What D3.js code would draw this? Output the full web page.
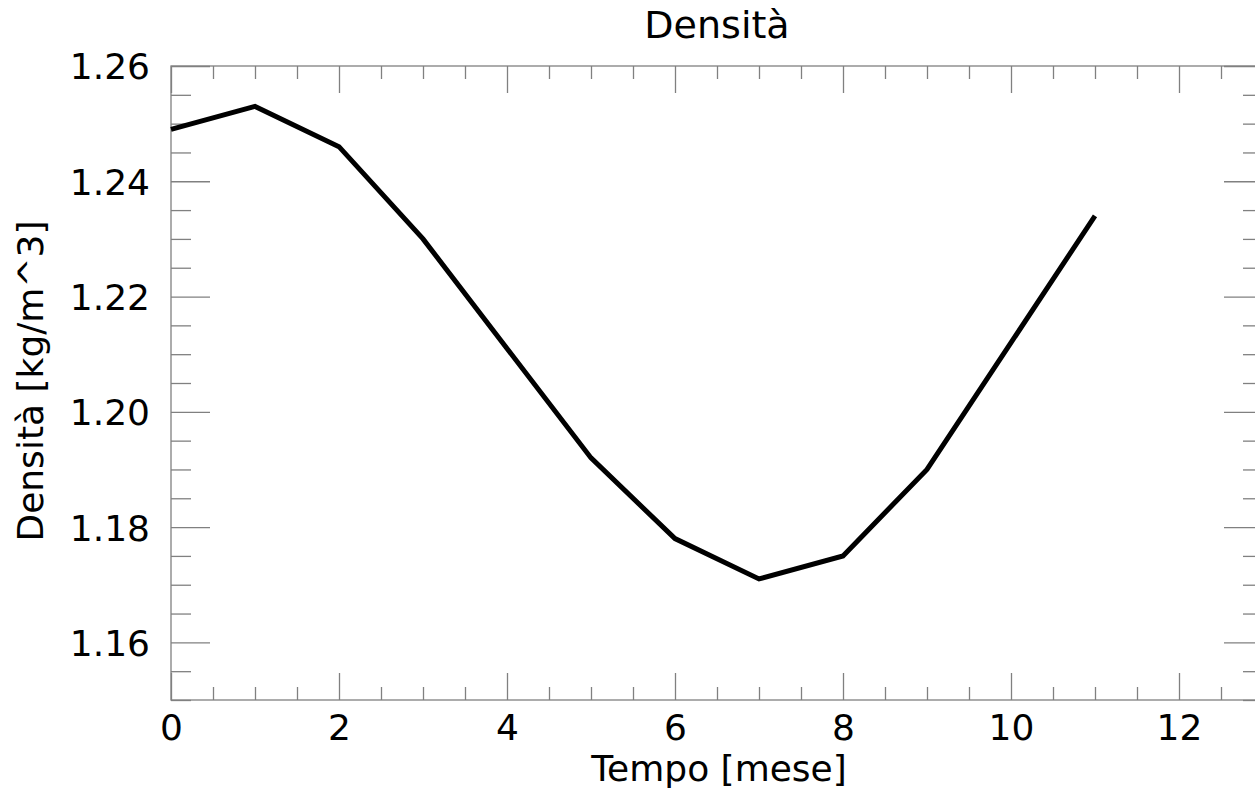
<!DOCTYPE html>
<html>
<head>
<meta charset="utf-8">
<script src="https://cdn.jsdelivr.net/npm/d3@7"></script>
<style>
    body { margin: 0; background: #fff; }
    svg { display: block; overflow: hidden; }
    .axis path, .axis line { stroke: #808080; stroke-width: 1.3; }
    .axis text { fill: #000; font-family: "DejaVu Sans", sans-serif; font-size: 36px; }
</style>
</head>
<body>
<div id="chart"></div>
<script>

// mese 0..11
var months = [0, 1, 2, 3, 4, 5, 6, 7, 8, 9, 10, 11];
var density = [1.249, 1.253, 1.246, 1.230, 1.211, 1.192, 1.178, 1.171, 1.175, 1.190, 1.212, 1.234];

var x_major_ticks = [0, 2, 4, 6, 8, 10, 12];
var y_major_ticks = [1.16, 1.18, 1.20, 1.22, 1.24, 1.26];

var w = 1255;
var h = 793;
var plot_left = 171, plot_right = 1263, plot_top = 66, plot_bottom = 700;

var xScale = d3.scaleLinear().domain([0, 13]).range([plot_left, plot_right]);
var yScale = d3.scaleLinear().domain([1.15, 1.26]).range([plot_bottom, plot_top]);

var x_minor = d3.range(0, 13.01, 0.5).filter(function(d) { return d % 2 != 0; });
var y_minor = d3.range(1.15, 1.2601, 0.005).filter(function(d) {
    return y_major_ticks.every(function(m) { return Math.abs(m - d) > 1e-6; });
});

var svg = d3.select('#chart')
            .append('svg')
            .attr('width', w)
            .attr('height', h);

// frame
svg.append('rect')
    .attr('x', plot_left)
    .attr('y', plot_top)
    .attr('width', plot_right - plot_left)
    .attr('height', plot_bottom - plot_top)
    .attr('fill', 'none')
    .attr('stroke', '#808080')
    .attr('stroke-width', 1.3);

function add_axis(axis, transform, dy) {
    var g = svg.append('g')
        .attr('class', 'axis')
        .attr('transform', transform)
        .call(axis);
    g.select('.domain').remove();
    g.attr('font-size', 36).attr('font-family', 'DejaVu Sans, sans-serif');
    if (dy) {
        g.selectAll('text').attr('dy', dy);
    }
    return g;
}

// bottom
add_axis(d3.axisBottom(xScale).tickValues(x_major_ticks).tickSize(-27).tickPadding(14).tickFormat(d3.format('d')),
         'translate(0,' + plot_bottom + ')', '0.71em');
add_axis(d3.axisBottom(xScale).tickValues(x_minor).tickSize(-13).tickFormat(''),
         'translate(0,' + plot_bottom + ')');
// top
add_axis(d3.axisTop(xScale).tickValues(x_major_ticks).tickSize(-27).tickFormat(''),
         'translate(0,' + plot_top + ')');
add_axis(d3.axisTop(xScale).tickValues(x_minor).tickSize(-13).tickFormat(''),
         'translate(0,' + plot_top + ')');
// left
add_axis(d3.axisLeft(yScale).tickValues(y_major_ticks).tickSize(-39).tickPadding(21).tickFormat(d3.format('.2f')),
         'translate(' + plot_left + ',0)', '0.36em');
add_axis(d3.axisLeft(yScale).tickValues(y_minor).tickSize(-20).tickFormat(''),
         'translate(' + plot_left + ',0)');
// right
add_axis(d3.axisRight(yScale).tickValues(y_major_ticks).tickSize(-39).tickFormat(''),
         'translate(' + plot_right + ',0)');
add_axis(d3.axisRight(yScale).tickValues(y_minor).tickSize(-20).tickFormat(''),
         'translate(' + plot_right + ',0)');

var line = d3.line()
    .x(function(d, i) { return xScale(months[i]); })
    .y(function(d) { return yScale(d); });

svg.append('path')
    .datum(density)
    .attr('d', line)
    .attr('fill', 'none')
    .attr('stroke', '#000')
    .attr('stroke-width', 5);

svg.append('text')
    .attr('text-anchor', 'middle')
    .attr('font-family', 'DejaVu Sans, sans-serif')
    .attr('font-size', 38)
    .attr('x', 717)
    .attr('y', 38)
    .text('Densità');

svg.append('text')
    .attr('text-anchor', 'middle')
    .attr('font-family', 'DejaVu Sans, sans-serif')
    .attr('font-size', 36)
    .attr('x', 719)
    .attr('y', 781)
    .text('Tempo [mese]');

svg.append('text')
    .attr('text-anchor', 'middle')
    .attr('font-family', 'DejaVu Sans, sans-serif')
    .attr('font-size', 36)
    .attr('transform', 'translate(43,381) rotate(-90)')
    .text('Densità [kg/m^3]');

</script>
</body>
</html>
